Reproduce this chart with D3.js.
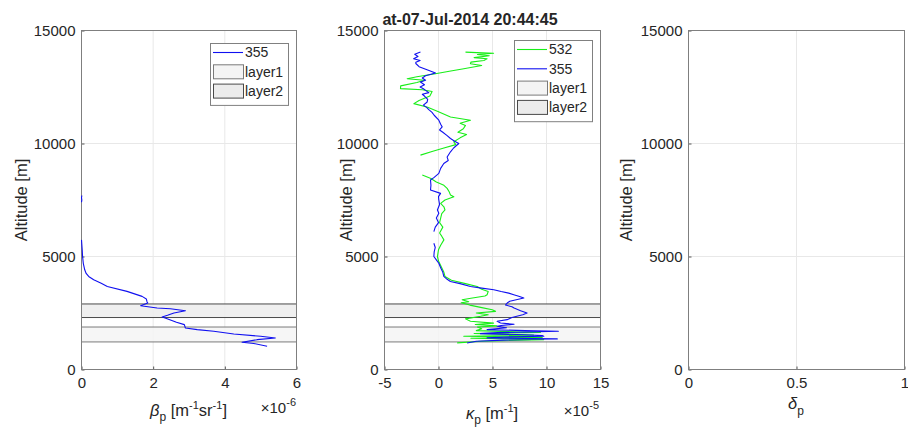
<!DOCTYPE html>
<html><head><meta charset="utf-8">
<script src="https://cdn.jsdelivr.net/npm/d3@7/dist/d3.min.js"></script>
<style>
body{margin:0;background:#fff}
svg text{font-family:"Liberation Sans",Arial,Helvetica,sans-serif;fill:#262626}
</style>
</head><body><svg id="c" width="908" height="427"></svg>
<script>
// ---------------- data ----------------
const titleText = "at-07-Jul-2014 20:44:45";
const yTicks = [0, 5000, 10000, 15000];
const xTicksL = [0, 2, 4, 6];
const xTicksM = [-5, 0, 5, 10, 15];
const xTicksR = [0, 0.5, 1];

// left panel: backscatter 355 (x 1e-6)
const altL = [7700,7600,7500,7400,null,5735,5300,5000,4700,4412,4250,4118,3970,3820,3676,3456,3235,3118,2990,2941,2824,2721,2690,2603,2500,2400,2324,2250,2088,1985,1838,1765,1691,1574,1471,1397,1320,1206,1150,1029];
const beta355 = [0.01,0,0.01,0,null,0,0.02,0.03,0.05,0.09,0.13,0.2,0.34,0.55,0.72,1.27,1.69,1.81,1.83,1.85,1.65,2.11,2.48,2.90,2.58,2.4,2.25,2.39,2.65,2.87,2.90,3.23,3.69,4.25,5.0,5.41,4.90,4.48,4.81,5.18];

// middle panel: extinction (x 1e-5)
const altM355 = [14044,13950,13850,13750,13676,13600,13540,13400,13250,13118,13000,12900,12800,12720,12600,12500,12420,12350,12250,12180,12100,11950,11838,11700,11600,11500,11380,11250,11030,10850,10735,10600,10500,10350,10220,10100,10000,9800,9632,9400,9250,9118,8900,8677,8500,8383,8150,7941,7794,7650,7500,7300,7059,6912,6700,6500,6300,6103,null,5588,5400,5200,5000,4850,4700,4500,4300,4118,3990,3897,3800,3676,3600,3530,3450,3380,3309,3230,3162,3100,3020,2941,2850,2780,2720,2600,2500,2420,2300,2206,2132,2059,2000,1950,1913,1850,1765,1720,1691,1630,1588,1540,1500,1471,1440,1400,1353,1300,1250,1176];
const kappa355 = [-1.67,-2.2,-1.9,-2.3,-1.7,-2.1,-2.1,-1.8,-1.0,-0.28,-1.2,-1.5,-1.2,-1.67,-1.3,-1.7,-1.4,-1.2,-0.9,-1.5,-1.3,-1.0,-1.05,-1.4,-1.1,-0.9,-0.6,-0.4,0.03,0.2,0.34,0.1,0.4,0.8,1.11,1.5,1.88,1.4,1.11,0.8,0.9,0.49,0.2,0.03,-0.4,-0.74,-0.7,-0.74,0.19,0.0,0.03,0.1,-0.1,0.03,-0.2,0.0,-0.3,-0.43,null,-0.43,-0.3,-0.4,-0.43,-0.2,0.03,0.2,0.4,0.49,0.8,1.1,2.0,2.96,4.0,5.12,5.8,6.5,6.97,7.5,7.9,7.3,6.6,6.36,6.2,6.8,7.0,7.6,8.2,7.8,6.8,6.36,5.43,5.74,7.0,5.8,5.43,6.3,4.5,8.0,11.1,5.5,3.89,8.0,9.6,9.75,6.0,4.5,11.0,6.0,3.5,2.65];

const altM532 = [14044,13990,13940,13880,13800,13750,13676,13600,13529,13450,13309,13200,13088,12950,12868,12800,12700,12550,12426,12380,12300,12100,11900,11765,11600,11400,11176,11030,10900,10800,10650,10500,10400,10250,10074,9950,9800,9650,9485,null,8603,8450,8300,8150,8015,7850,7721,7647,7500,7350,7200,7059,6900,6700,6500,6300,6040,5900,5735,5500,5300,5000,4800,4500,4300,4118,3950,3800,3676,3550,3450,3309,3250,3150,3088,3000,2950,2850,2750,2647,2574,2500,2420,2353,2240,2132,2050,1990,1930,1880,1800,1720,1640,1590,1520,1470,1420,1380,1323,1250,1176];
const kappa532 = [2.5,5.1,3.6,4.7,3.3,4.5,4.2,3.0,2.96,4.0,2.34,1.0,-0.28,-2.0,-2.9,-1.3,-2.0,-3.5,-3.52,-1.5,-0.59,-0.8,-1.8,-2.28,-1.0,0.0,1.11,2.96,2.0,2.5,2.3,1.8,2.6,2.0,1.42,1.6,0.5,-0.6,-1.67,null,-1.5,-0.7,-0.2,0.5,0.8,1.0,1.11,1.42,0.6,0.2,0.5,0.6,0.3,0.2,0.1,0.4,0.1,0.3,0.5,0.2,0.0,-0.1,0.0,0.3,0.5,0.6,1.2,2.5,3.58,4.0,4.6,4.5,4.3,3.0,2.19,2.8,2.1,2.9,3.9,4.97,5.28,3.5,4.6,3.9,2.5,2.96,5.1,3.4,5.4,3.6,4.0,3.5,9.44,3.3,8.8,2.34,9.6,3.0,9.75,4.0,1.73];

// cloud layers
const layerNames = ["layer1", "layer2"];
const layerBottoms = [1220, 2300];
const layerTops = [1880, 2900];
const layerFills = ["#f4f4f4", "#ececec"];
const layerStrokes = ["#7a7a7a", "#4a4a4a"];

const blue = "#1010f0", green = "#18ee18";

// ---------------- drawing ----------------
const svg = d3.select("#c");
const y = d3.scaleLinear([0, 15000], [369.5, 30.5]);

function panel(x0, x1, domain, xticks, ylabelX) {
  const x = d3.scaleLinear(domain, [x0 + 0.5, x1 + 0.5]);
  const g = svg.append("g");
  g.selectAll(".gx").data(xticks).join("line")
    .attr("x1", d => x(d)).attr("x2", d => x(d)).attr("y1", y(0)).attr("y2", y(15000))
    .attr("stroke", "#e8e8e8");
  g.selectAll(".gy").data(yTicks).join("line")
    .attr("y1", d => y(d)).attr("y2", d => y(d)).attr("x1", x.range()[0]).attr("x2", x.range()[1])
    .attr("stroke", "#e8e8e8");
  const ax = g.append("g").attr("transform", `translate(0,${y(0)})`)
    .call(d3.axisBottom(x).tickValues(xticks).tickFormat(d => String(d)).tickSizeInner(-3).tickSizeOuter(0).tickPadding(8));
  const ay = g.append("g").attr("transform", `translate(${x.range()[0]},0)`)
    .call(d3.axisLeft(y).tickValues(yTicks).tickFormat(d3.format("d")).tickSizeInner(-3).tickSizeOuter(0).tickPadding(6));
  [ax, ay].forEach(a => {
    a.select(".domain").remove();
    a.selectAll("line").attr("stroke", "#555");
    a.selectAll("text").attr("font-size", 15).attr("fill", "#262626")
      .style("font-family", '"Liberation Sans",Arial,sans-serif');
  });
  g.append("text").attr("transform", `translate(${ylabelX},200) rotate(-90)`)
    .attr("text-anchor", "middle").attr("dy", "0.35em").attr("font-size", 16.5).text("Altitude [m]");
  return {x, g};
}

function box(p) {
  p.g.append("rect").attr("x", p.x.range()[0]).attr("y", y(15000))
    .attr("width", p.x.range()[1] - p.x.range()[0]).attr("height", y(0) - y(15000))
    .attr("fill", "none").attr("stroke", "#7f7f7f");
}

function layers(p) {
  layerNames.forEach((n, i) => {
    p.g.append("rect").attr("x", p.x.range()[0]).attr("width", p.x.range()[1] - p.x.range()[0])
      .attr("y", y(layerTops[i])).attr("height", y(layerBottoms[i]) - y(layerTops[i]))
      .attr("fill", layerFills[i]).attr("fill-opacity", 0.85)
      .attr("stroke", layerStrokes[i]).attr("stroke-width", 1);
  });
}

function curve(p, alts, vals, color) {
  const data = alts.map((a, i) => ({a, v: vals[i]}));
  const line = d3.line().defined(d => d.a !== null && d.v !== null)
    .x(d => p.x(d.v)).y(d => y(d.a));
  p.g.append("path").datum(data).attr("d", line).attr("fill", "none")
    .attr("stroke", color).attr("stroke-width", 1.1).attr("stroke-linejoin", "round");
}

function legend(p, lx, ly, w, entries) {
  const rowH = 19.3;
  const h = entries.length * rowH + 4;
  p.g.append("rect").attr("x", lx + 0.5).attr("y", ly + 0.5).attr("width", w).attr("height", h)
    .attr("fill", "#fff").attr("stroke", "#808080");
  entries.forEach((e, i) => {
    const cy = ly + 9.5 + i * rowH;
    if (e.type === "line") {
      p.g.append("line").attr("x1", lx + 3).attr("x2", lx + 33).attr("y1", cy).attr("y2", cy)
        .attr("stroke", e.color).attr("stroke-width", 1.1);
    } else {
      p.g.append("rect").attr("x", lx + 3.5).attr("y", cy - 7).attr("width", 30).attr("height", 14)
        .attr("fill", e.fill).attr("stroke", e.stroke);
    }
    p.g.append("text").attr("x", lx + 35).attr("y", cy).attr("dy", "0.35em")
      .attr("font-size", 14).text(e.label);
  });
}

// left panel
const pL = panel(81, 296, [0, 6], xTicksL, 21);
layers(pL);
box(pL);
curve(pL, altL, beta355, blue);
legend(pL, 210, 43, 78, [
  {type: "line", color: blue, label: "355"},
  {type: "patch", fill: layerFills[0], stroke: layerStrokes[0], label: layerNames[0]},
  {type: "patch", fill: layerFills[1], stroke: layerStrokes[1], label: layerNames[1]}
]);

// middle panel
const pM = panel(384, 600, [-5, 15], xTicksM, 346);
layers(pM);
box(pM);
curve(pM, altM532, kappa532, green);
curve(pM, altM355, kappa355, blue);
legend(pM, 514, 40, 78, [
  {type: "line", color: green, label: "532"},
  {type: "line", color: blue, label: "355"},
  {type: "patch", fill: layerFills[0], stroke: layerStrokes[0], label: layerNames[0]},
  {type: "patch", fill: layerFills[1], stroke: layerStrokes[1], label: layerNames[1]}
]);

// right panel
const pR = panel(688, 904, [0, 1], xTicksR, 626);
box(pR);

// title
svg.append("text").attr("x", 470).attr("y", 25).attr("text-anchor", "middle")
  .attr("font-size", 16).attr("font-weight", "bold").attr("fill", "#000").text(titleText);

// x labels
function xlabel(cx, by, parts) {
  const t = svg.append("text").attr("x", cx).attr("y", by).attr("text-anchor", "middle").attr("font-size", 16.5);
  parts.forEach(p => {
    const s = t.append("tspan").text(p.t);
    if (p.dy) s.attr("dy", p.dy);
    if (p.fs) s.attr("font-size", p.fs);
    if (p.it) s.attr("font-style", "italic");
  });
}
function mult(rx, by, exp) {
  const t = svg.append("text").attr("x", rx).attr("y", by).attr("text-anchor", "end").attr("font-size", 15);
  t.append("tspan").text("\u00d710");
  t.append("tspan").attr("dy", -7).attr("font-size", 11).text(exp);
}
xlabel(188.5, 416, [{t: "\u03b2", it: true}, {t: "p", dy: 5, fs: 12}, {t: " [m", dy: -5}, {t: "-1", dy: -7, fs: 11}, {t: "sr", dy: 7}, {t: "-1", dy: -7, fs: 11}, {t: "]", dy: 7}]);
mult(296, 413, "-6");
xlabel(492, 419, [{t: "\u03ba", it: true}, {t: "p", dy: 5, fs: 12}, {t: " [m", dy: -5}, {t: "-1", dy: -7, fs: 11}, {t: "]", dy: 7}]);
mult(599, 416, "-5");
xlabel(796, 409, [{t: "\u03b4", it: true}, {t: "p", dy: 6, fs: 12}]);
</script></body></html>
